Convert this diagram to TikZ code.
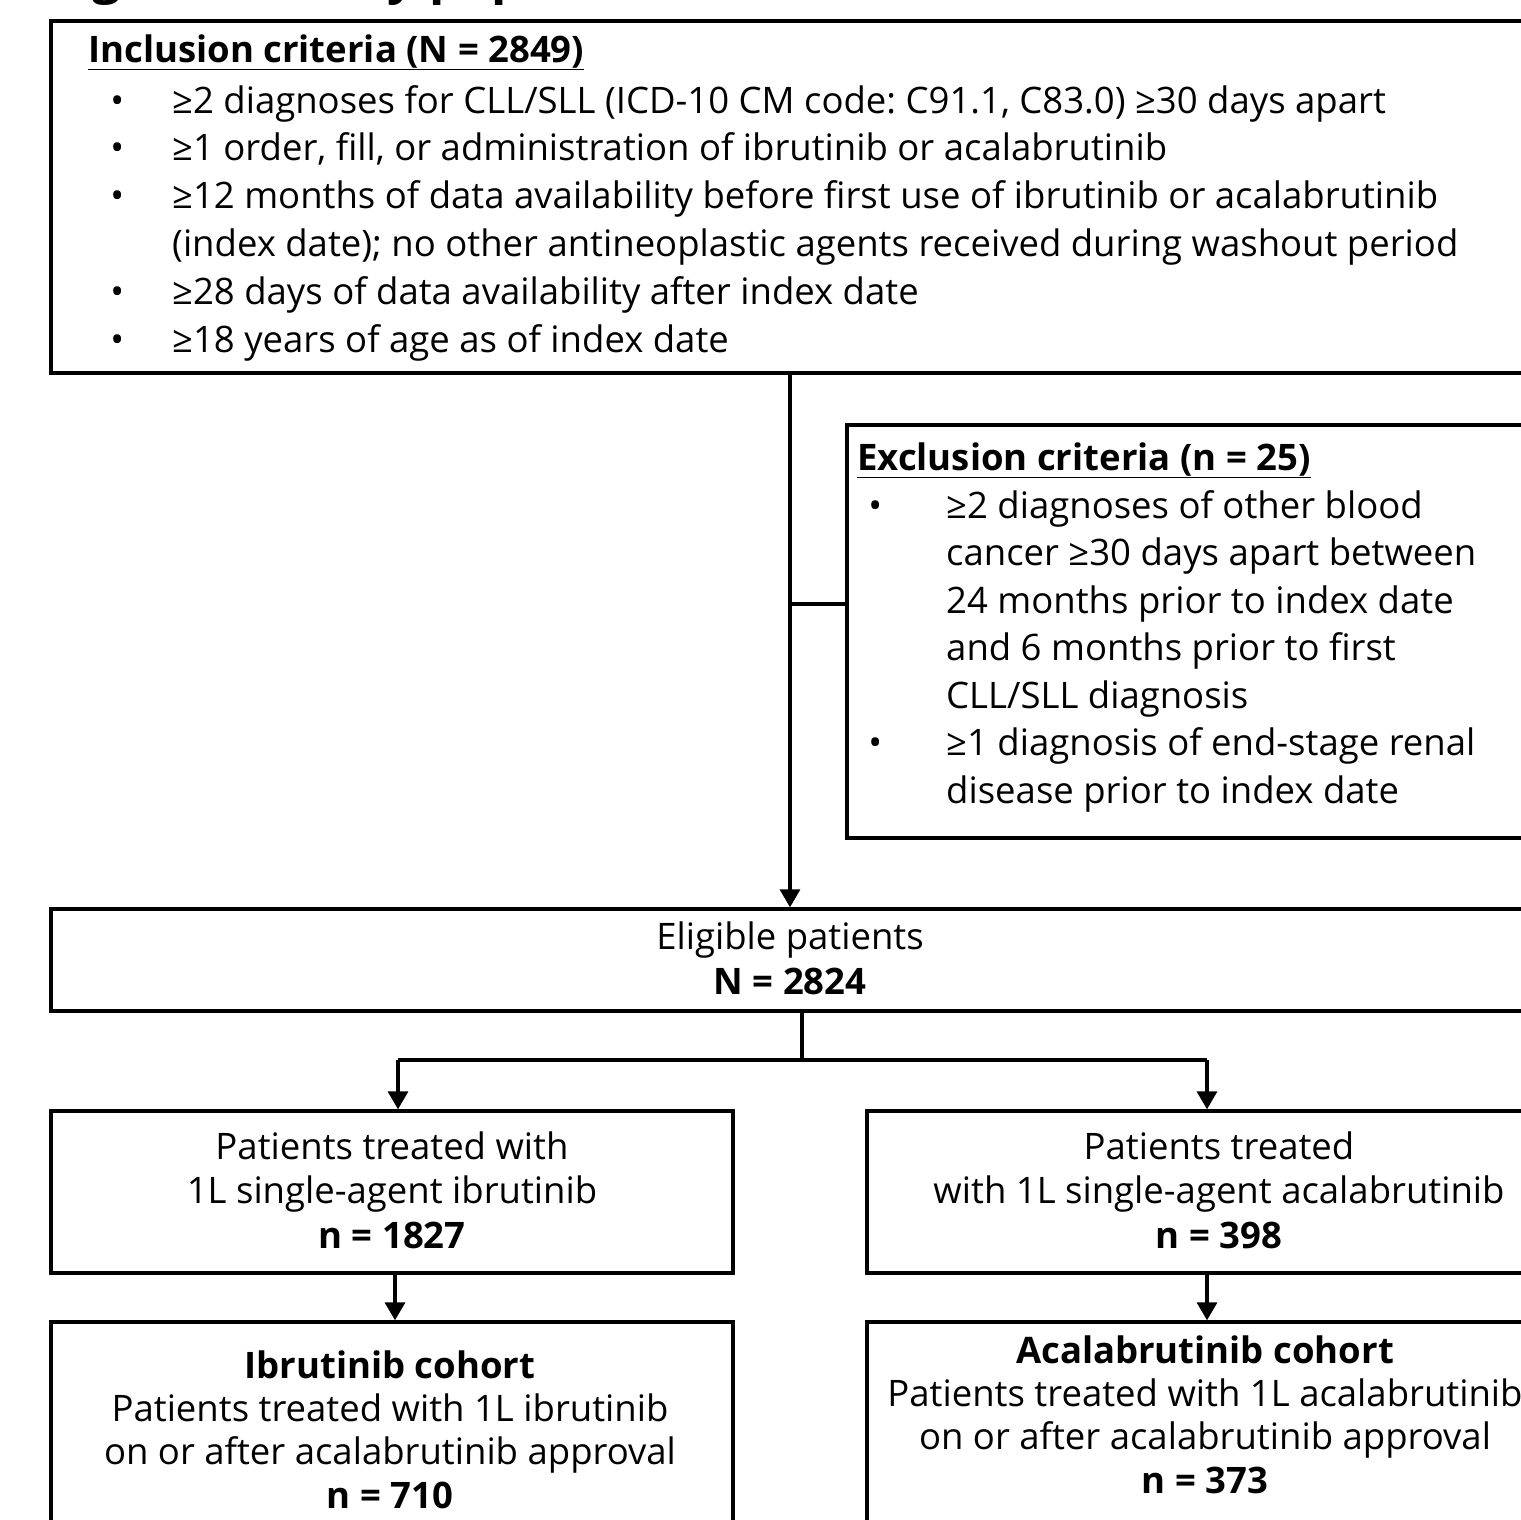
\documentclass[tikz,border=0pt]{standalone}
\usepackage{fontspec}
\setmainfont{Open Sans}
\usetikzlibrary{arrows.meta}
\newcommand{\bulx}[1]{\llap{\textbullet\hspace{#1}}}
\frenchspacing
\begin{document}
\begin{tikzpicture}[x=1pt,y=-1pt,
  box/.style={draw,line width=3.4pt,rectangle,inner sep=0pt},
  txt/.style={inner sep=0pt,align=left,font=\fontsize{36.5}{47.8}\selectfont},
  ctr/.style={inner sep=0pt,align=center,font=\fontsize{36.5}{44.5}\selectfont},
  ctrb/.style={inner sep=0pt,align=center,font=\fontsize{36.5}{43.2}\selectfont},
  hdr/.style={anchor=base west,inner sep=0pt,font=\bfseries\fontsize{36.5}{44}\selectfont},
  conn/.style={line width=3.4pt},
  arr/.style={line width=3.4pt,-{Triangle[width=20pt,length=18pt]}}]
\useasboundingbox (0,0) rectangle (1521,1519);
% title (mostly above the page)
\node[anchor=base west,inner sep=0pt,font=\bfseries\fontsize{50}{60}\selectfont] (title) at (50,-7) {Figure 1. Study population};
% boxes
\node[box,minimum width=1489pt,minimum height=352pt] (incl) at (795.5,197) {};
\node[box,minimum width=693pt,minimum height=413pt] (excl) at (1193.5,631.5) {};
\node[box,minimum width=1489pt,minimum height=102pt] (elig) at (795.5,960) {};
\node[box,minimum width=682pt,minimum height=162pt] (lt) at (392,1192) {};
\node[box,minimum width=680pt,minimum height=162pt] (rt) at (1207,1192) {};
\node[box,minimum width=682pt,minimum height=238pt] (lb) at (392,1441) {};
\node[box,minimum width=680pt,minimum height=238pt] (rb) at (1207,1441) {};
% texts (multi-line nodes: base = baseline of last line)
\node[hdr] (inclt) at (88,62) {\underline{Inclusion criteria (N = 2849)}};
\node[txt,anchor=base west] (incli) at (172,352) {\bulx{48pt}≥2 diagnoses for CLL/SLL (ICD-10 CM code: C91.1, C83.0) ≥30 days apart\\
\bulx{48pt}≥1 order, fill, or administration of ibrutinib or acalabrutinib\\
\bulx{48pt}≥12 months of data availability before first use of ibrutinib or acalabrutinib\\
(index date); no other antineoplastic agents received during washout period\\
\bulx{48pt}≥28 days of data availability after index date\\
\bulx{48pt}≥18 years of age as of index date};
\node[hdr] (exclt) at (857,470) {\underline{Exclusion criteria (n = 25)}};
\node[txt,anchor=base west,font=\fontsize{36.5}{47.5}\selectfont] (excli) at (946,803) {\bulx{64pt}≥2 diagnoses of other blood\\
cancer ≥30 days apart between\\
24 months prior to index date\\
and 6 months prior to first\\
CLL/SLL diagnosis\\
\bulx{64pt}≥1 diagnosis of end-stage renal\\
disease prior to index date};
\node[ctr,anchor=base] (eligt) at (790,994) {Eligible patients\\\textbf{N = 2824}};
\node[ctr,anchor=base] (ltt) at (392,1248) {Patients treated with\\ 1L single-agent ibrutinib\\\textbf{n = 1827}};
\node[ctr,anchor=base] (rtt) at (1219,1248) {Patients treated\\ with 1L single-agent acalabrutinib\\\textbf{n = 398}};
\node[ctrb,anchor=base] (lbt) at (390,1508) {\textbf{Ibrutinib cohort}\\Patients treated with 1L ibrutinib\\on or after acalabrutinib approval\\\textbf{n = 710}};
\node[ctrb,anchor=base] (rbt) at (1205,1493) {\textbf{Acalabrutinib cohort}\\Patients treated with 1L acalabrutinib\\on or after acalabrutinib approval\\\textbf{n = 373}};
% connectors
\coordinate (j1) at (790,604);
\coordinate (s0) at (802,1060);
\coordinate (sl) at (398,1060);
\coordinate (sr) at (1207,1060);
\coordinate (al) at (395,1300);
\draw[conn] (j1 |- incl.south) -- (j1);
\draw[arr] (j1) -- (j1 |- elig.north);
\draw[conn] (j1) -- (j1 -| excl.west);
\draw[conn] (s0 |- elig.south) -- (s0);
\draw[conn] (sl) -- (sr);
\draw[arr] (sl) -- (sl |- lt.north);
\draw[arr] (sr) -- (sr |- rt.north);
\draw[arr] (al |- lt.south) -- (al |- lb.north);
\draw[arr] (rt.south) -- (rb.north);
\end{tikzpicture}
\end{document}
